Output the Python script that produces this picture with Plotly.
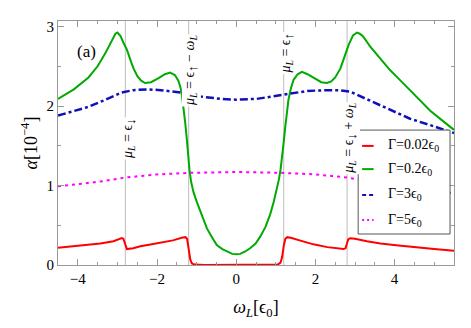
import plotly.graph_objects as go

# ---------------- data ----------------
red_x = [-4.5, -4.0, -3.43, -3.1, -2.95, -2.89, -2.85, -2.82, -2.79, -2.76, -2.6, -2.42, -2.2, -1.92, -1.6,
         -1.35, -1.28, -1.24, -1.2, -1.16, -1.12, -1.05, -0.8, 0.0, 0.8, 1.05, 1.12, 1.16, 1.2, 1.24, 1.29,
         1.4, 1.6, 1.95, 2.3, 2.6, 2.71, 2.76, 2.8, 2.83, 2.88, 3.0, 3.3, 3.64, 4.1, 4.56, 5.0, 5.5]
red_y = [0.217, 0.245, 0.27, 0.30, 0.33, 0.34, 0.33, 0.28, 0.22, 0.20, 0.21, 0.235, 0.255, 0.28, 0.31,
         0.345, 0.35, 0.33, 0.20, 0.07, 0.02, 0.005, 0.0, 0.0, 0.0, 0.005, 0.03, 0.10, 0.24, 0.33, 0.35,
         0.34, 0.31, 0.26, 0.225, 0.205, 0.20, 0.21, 0.28, 0.325, 0.335, 0.33, 0.30, 0.27, 0.245, 0.22, 0.20, 0.18]

green_x = [-4.5, -4.1, -3.73, -3.5, -3.31, -3.15, -3.05, -3.0, -2.92, -2.85, -2.76, -2.65, -2.59, -2.5, -2.4,
           -2.3, -2.15, -1.96, -1.8, -1.67, -1.55, -1.46, -1.40, -1.37, -1.32, -1.29, -1.25, -1.22, -1.18,
           -1.14, -1.08, -1.0, -0.91, -0.82, -0.74, -0.6, -0.49, -0.35, -0.23, -0.1, 0.0, 0.1, 0.23, 0.35,
           0.49, 0.61, 0.74, 0.86, 0.95, 1.03, 1.08, 1.12, 1.16, 1.2, 1.24, 1.28, 1.32, 1.38, 1.45, 1.55,
           1.66, 1.8, 1.99, 2.15, 2.29, 2.4, 2.5, 2.63, 2.72, 2.84, 2.95, 3.05, 3.12, 3.2, 3.38, 3.6, 3.89,
           4.15, 4.39, 4.65, 4.9, 5.2, 5.5]
green_y = [2.09, 2.21, 2.36, 2.50, 2.66, 2.82, 2.91, 2.925, 2.88, 2.80, 2.71, 2.55, 2.47, 2.38, 2.32,
           2.29, 2.30, 2.35, 2.40, 2.42, 2.39, 2.32, 2.22, 2.13, 1.95, 1.80, 1.60, 1.40, 1.20,
           1.05, 0.92, 0.80, 0.69, 0.56, 0.46, 0.34, 0.25, 0.20, 0.17, 0.14, 0.135, 0.14, 0.17, 0.21,
           0.27, 0.36, 0.48, 0.64, 0.80, 0.95, 1.08, 1.20, 1.35, 1.55, 1.74, 1.93, 2.08, 2.22, 2.33, 2.40,
           2.43, 2.40, 2.34, 2.30, 2.29, 2.31, 2.36, 2.47, 2.60, 2.77, 2.89, 2.925, 2.91, 2.88, 2.75, 2.62, 2.45,
           2.32, 2.20, 2.07, 1.94, 1.82, 1.70]

blue_x = [-4.5, -4.1, -3.73, -3.3, -2.89, -2.6, -2.25, -1.9, -1.41, -0.9, -0.4, 0.0, 0.52, 0.9, 1.36, 1.8,
          2.29, 2.6, 2.88, 3.38, 3.89, 4.39, 4.9, 5.5]
blue_y = [1.88, 1.94, 1.99, 2.08, 2.17, 2.20, 2.21, 2.20, 2.17, 2.12, 2.09, 2.08, 2.09, 2.12, 2.16, 2.19,
          2.20, 2.20, 2.18, 2.07, 1.95, 1.84, 1.76, 1.66]

mag_x = [-4.5, -4.0, -3.43, -2.8, -2.0, -1.16, 0.0, 1.11, 2.0, 2.8, 3.43, 4.0, 4.5, 5.0, 5.5]
mag_y = [0.99, 1.02, 1.05, 1.10, 1.14, 1.16, 1.17, 1.16, 1.14, 1.10, 1.05, 1.02, 0.98, 0.94, 0.90]

series_names = ["Γ=0.02ϵ<sub>0</sub>", "Γ=0.2ϵ<sub>0</sub>", "Γ=3ϵ<sub>0</sub>", "Γ=5ϵ<sub>0</sub>"]

DOWN = "<sub><span style='font-size:13px'>↓</span></sub>"
UP = "<sub><span style='font-size:13px'>↑</span></sub>"
vline_x = [-2.8, -1.2, 1.2, 2.8]
vline_labels = ["<i>μ<sub>L</sub></i> = ϵ" + DOWN,
                "<i>μ<sub>L</sub></i> = ϵ" + UP + " − <i>ω<sub>L</sub></i>",
                "<i>μ<sub>L</sub></i> = ϵ" + UP,
                "<i>μ<sub>L</sub></i> = ϵ" + DOWN + " + <i>ω<sub>L</sub></i>"]
vline_label_y = [1.59, 2.45, 2.67, 1.59]

x_ticks = [-4, -2, 0, 2, 4]
y_ticks = [0, 1, 2, 3]

FONT = "Liberation Serif, Times New Roman, DejaVu Serif, serif"

fig = go.Figure()

# vertical marker lines
for vx in vline_x:
    fig.add_shape(type="line", xref="x", yref="paper", x0=vx, x1=vx, y0=0, y1=1,
                  line=dict(color="#bdbdbd", width=1), layer="below")

styles = [
    dict(color="#ff0000", width=2, dash="solid"),
    dict(color="#00aa00", width=2, dash="solid"),
    dict(color="#1010b8", width=2.5, dash="8px,3px,3px,3px"),
    dict(color="#ff00ff", width=2, dash="3px,4px"),
]
legend_dash = ["solid", "solid", "4px,3px", "2px,3px"]
data = [(red_x, red_y), (green_x, green_y), (blue_x, blue_y), (mag_x, mag_y)]
for (xs, ys), name, st in zip(data, series_names, styles):
    fig.add_trace(go.Scatter(x=xs, y=ys, mode="lines", name=name, line=st, showlegend=False,
                             hoverinfo="skip"))

for vx, lab, ly in zip(vline_x, vline_labels, vline_label_y):
    fig.add_annotation(x=vx, y=ly, xref="x", yref="y", text=lab, textangle=-90,
                       showarrow=False, bgcolor="white", xshift=3, borderpad=0,
                       font=dict(family=FONT, size=14, color="black"))

fig.add_annotation(x=0.043, y=0.922, xref="paper", yref="paper", text="(a)", showarrow=False,
                   font=dict(family=FONT, size=17, color="black"))

# compact Mathematica-style legend
fig.add_shape(type="rect", xref="paper", yref="paper", x0=0.758, x1=0.990, y0=0.127, y1=0.553,
              line=dict(color="#555555", width=1), fillcolor="white", layer="above")
legend_y = [0.488, 0.393, 0.287, 0.184]
for ly, name, st, dsh in zip(legend_y, series_names, styles, legend_dash):
    fig.add_shape(type="line", xref="paper", yref="paper", x0=0.768, x1=0.797, y0=ly, y1=ly,
                  line=dict(color=st["color"], width=2, dash=dsh), layer="above")
    fig.add_annotation(x=0.829, y=ly, xref="paper", yref="paper", text=name, showarrow=False,
                       xanchor="left", yanchor="middle",
                       font=dict(family=FONT, size=14, color="black"))

axis_common = dict(showgrid=False, zeroline=False, showline=True, linecolor="#999999", linewidth=1,
                   mirror="ticks", ticks="inside", ticklen=6, tickcolor="#999999",
                   tickfont=dict(family=FONT, size=15, color="black"))

fig.update_layout(
    width=471, height=328,
    margin=dict(l=58, r=17, t=21, b=63),
    paper_bgcolor="white", plot_bgcolor="white",
    font=dict(family=FONT, size=15, color="black"),
    showlegend=False,
    xaxis=dict(range=[-4.5, 5.5], tickvals=x_ticks,
               minor=dict(ticks="inside", dtick=0.5, tick0=0, ticklen=3, tickcolor="#999999"),
               title=dict(text="<i>ω<sub>L</sub></i>[ϵ<sub>0</sub>]", font=dict(family=FONT, size=18),
                          standoff=14),
               **axis_common),
    yaxis=dict(range=[0, 3.07], tickvals=y_ticks,
               minor=dict(ticks="inside", dtick=0.5, tick0=0, ticklen=3, tickcolor="#999999"),
               title=dict(text="<i>α</i>[10<sup>−4</sup>]", font=dict(family=FONT, size=18),
                          standoff=4),
               **axis_common),
)

fig.write_html("out.html", config={"displayModeBar": False},
               post_script="document.body.style.margin='0';")
